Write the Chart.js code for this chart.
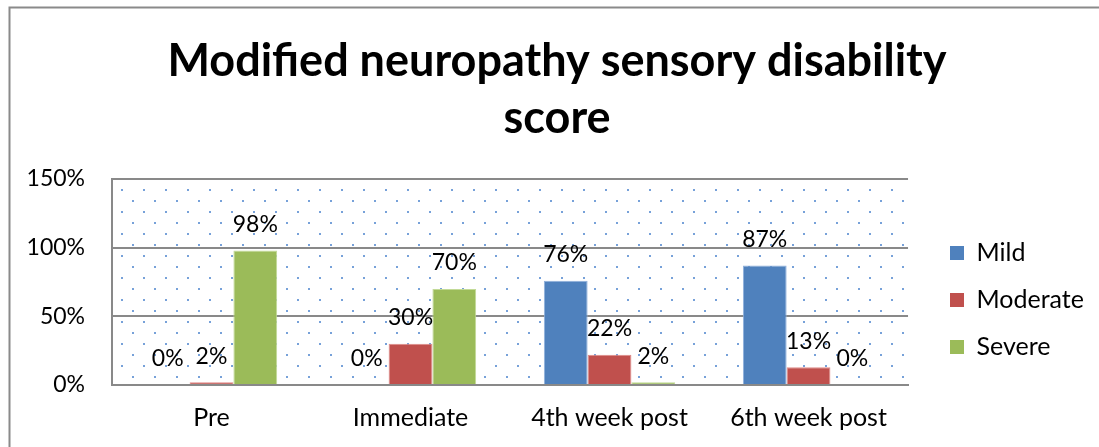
<!DOCTYPE html>
<html><head><meta charset="utf-8">
<script src="https://cdn.jsdelivr.net/npm/chart.js@4.4.0/dist/chart.umd.min.js"></script>
<style>html,body{margin:0;padding:0;background:#fff}canvas{display:block}</style>
</head><body>
<canvas id="c" width="1099" height="447"></canvas>
<script>
const categories = ['Pre', 'Immediate', '4th week post', '6th week post'];
const seriesNames = ['Mild', 'Moderate', 'Severe'];
const mild = [0, 0, 76, 87];
const moderate = [2, 30, 22, 13];
const severe = [98, 70, 2, 0];
const yTicks = [0, 50, 100, 150];
const titleLines = ['Modified neuropathy sensory disability', 'score'];
const colors = ['#4f81bd', '#c0504d', '#9bbb59'];
const edgeColors = ['#8fb0dc', '#e08a88', '#c2da97'];

const FONT = 'Lato, "Open Sans", sans-serif';

function makePattern(ctx) {
  const t = document.createElement('canvas');
  t.width = 22; t.height = 22;
  const g = t.getContext('2d');
  g.fillStyle = 'rgba(95,145,210,0.85)';
  g.fillRect(0, 2, 2, 2);
  g.fillRect(11, 13, 2, 2);
  return ctx.createPattern(t, 'repeat');
}

const bgPlugin = {
  id: 'bgDots',
  beforeDraw(chart) {
    const {ctx, chartArea: a} = chart;
    ctx.save();
    ctx.fillStyle = '#fff';
    ctx.fillRect(0, 0, chart.width, chart.height);
    ctx.fillStyle = makePattern(ctx);
    ctx.fillRect(a.left, a.top, a.right - a.left, a.bottom - a.top);
    ctx.strokeStyle = '#8a8a8a';
    ctx.lineWidth = 2;
    ctx.beginPath();
    ctx.moveTo(9.5, chart.height);
    ctx.lineTo(9.5, 7.5);
    ctx.lineTo(chart.width, 7.5);
    ctx.stroke();
    ctx.restore();
  }
};

const labelPlugin = {
  id: 'valueLabels',
  afterDatasetsDraw(chart) {
    const {ctx} = chart;
    ctx.save();
    ctx.font = '23px ' + FONT;
    ctx.fillStyle = '#000';
    ctx.textAlign = 'center';
    ctx.textBaseline = 'middle';
    chart.data.datasets.forEach((ds, i) => {
      chart.getDatasetMeta(i).data.forEach((el, j) => {
        ctx.fillText(ds.data[j] + '%', el.x, el.y - 26);
      });
    });
    ctx.restore();
  }
};

const placePlugin = {
  id: 'placeBoxes',
  afterLayout(chart) {
    const lg = chart.legend;
    const w = lg.width;
    lg.left = 928; lg.right = 928 + w;
    lg.top = 179; lg.bottom = 421; lg.height = 242;
    const tb = chart.titleBlock;
    tb.left += 20; tb.right += 20;
  }
};

new Chart(document.getElementById('c'), {
  type: 'bar',
  data: {
    labels: categories,
    datasets: [
      {label: seriesNames[0], data: mild, backgroundColor: colors[0], borderColor: edgeColors[0], borderWidth: 1},
      {label: seriesNames[1], data: moderate, backgroundColor: colors[1], borderColor: edgeColors[1], borderWidth: 1},
      {label: seriesNames[2], data: severe, backgroundColor: colors[2], borderColor: edgeColors[2], borderWidth: 1}
    ]
  },
  options: {
    responsive: false,
    animation: false,
    devicePixelRatio: 1,
    categoryPercentage: 0.66,
    barPercentage: 1,
    layout: {padding: {left: 0, right: 25, top: 0, bottom: 0}},
    plugins: {
      title: {
        display: true,
        text: titleLines,
        color: '#000',
        font: {family: FONT, size: 45, weight: 'bold', lineHeight: 1.267},
        padding: {top: 32.5, bottom: 32.5}
      },
      legend: {
        position: 'right',
        align: 'center',
        labels: {
          color: '#000',
          font: {family: FONT, size: 25},
          boxWidth: 14,
          boxHeight: 14,
          padding: 22,
          generateLabels(chart) {
            return chart.data.datasets.map((ds, i) => ({
              text: ds.label, fillStyle: colors[i], strokeStyle: colors[i],
              lineWidth: 0, hidden: false, datasetIndex: i, fontColor: '#000'
            }));
          }
        }
      },
      tooltip: {enabled: false}
    },
    scales: {
      x: {
        afterFit(scale) { scale.height = 62; },
        grid: {display: false, drawTicks: false},
        border: {display: true, color: '#898989', width: 2},
        ticks: {color: '#000', font: {family: FONT, size: 25}, padding: 18, maxRotation: 0}
      },
      y: {
        min: 0, max: 150,
        afterFit(scale) { scale.width = 112; },
        afterBuildTicks(scale) { scale.ticks = yTicks.map(v => ({value: v})); },
        grid: {color: '#898989', lineWidth: 2, drawTicks: false},
        border: {display: true, color: '#898989', width: 2},
        ticks: {color: '#000', font: {family: FONT, size: 23}, padding: 27,
          callback: v => v + '%'}
      }
    }
  },
  plugins: [bgPlugin, labelPlugin, placePlugin]
});
</script>
</body></html>
